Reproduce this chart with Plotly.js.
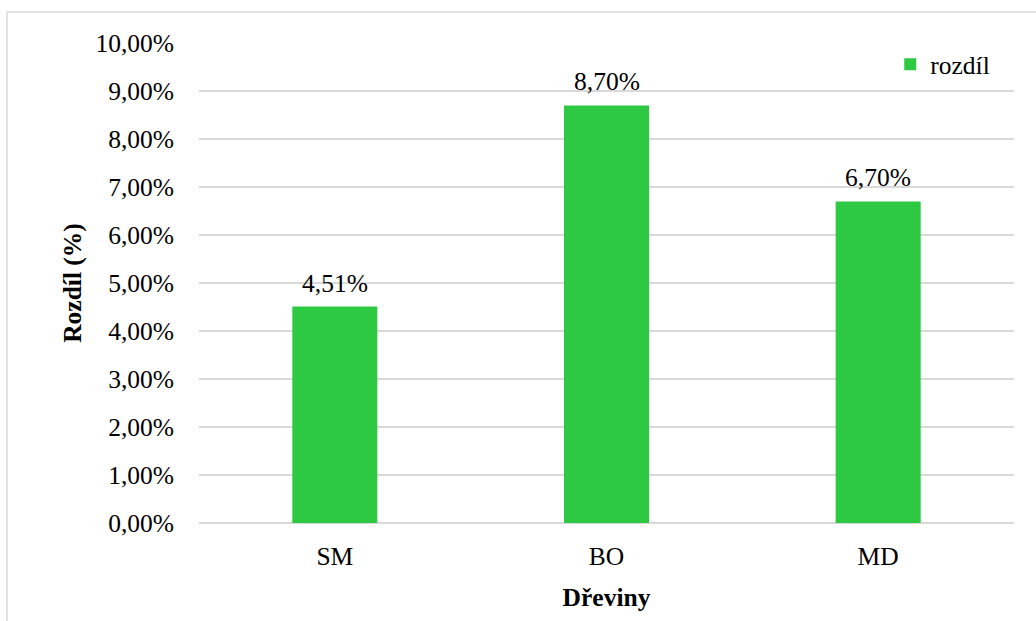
<!DOCTYPE html>
<html>
<head>
<meta charset="utf-8">
<script src="https://cdn.plot.ly/plotly-3.0.1.min.js"></script>
<style>
  html, body { margin: 0; padding: 0; background: #ffffff; }
  #chart { width: 1036px; height: 621px; }
</style>
</head>
<body>
<div id="chart"></div>
<script>
// Species (dřeviny) and the difference for each, as fractions
const species = ['SM', 'BO', 'MD'];
const differences = [0.0451, 0.087, 0.067];
const seriesName = 'rozdíl';

const FONT = 'Liberation Serif, Times New Roman, serif';
const GREEN = '#2ec943';
const GRID = '#d9d9d9';

function pct(v) {
  return (v * 100).toFixed(2).replace('.', ',') + '%';
}

const trace = {
  type: 'bar',
  x: species,
  y: differences,
  name: seriesName,
  marker: { color: GREEN },
  showlegend: true,
  hoverinfo: 'skip'
};

// Value labels above each bar
const labels = species.map((s, i) => ({
  x: s,
  y: differences[i],
  xref: 'x',
  yref: 'y',
  text: pct(differences[i]),
  showarrow: false,
  yanchor: 'bottom',
  yshift: 7,
  font: { family: FONT, size: 25.5, color: '#000000' }
}));

const layout = {
  width: 1036,
  height: 621,
  margin: { l: 199, r: 22, t: 43, b: 98 },
  paper_bgcolor: '#ffffff',
  plot_bgcolor: '#ffffff',
  separators: ', ',
  font: { family: FONT, size: 25.5, color: '#000000' },
  bargap: 0.687,
  xaxis: {
    type: 'category',
    showgrid: false,
    showline: false,
    zeroline: false,
    ticks: '',
    ticklabelstandoff: 15,
    tickfont: { family: FONT, size: 25.5, color: '#000000' },
    title: {
      text: '<b>Dřeviny</b>',
      font: { family: FONT, size: 25.5, color: '#000000' },
      standoff: 18
    }
  },
  yaxis: {
    range: [0, 0.1],
    dtick: 0.01,
    tick0: 0,
    tickformat: '.2%',
    showgrid: true,
    gridcolor: GRID,
    gridwidth: 1.3,
    zeroline: true,
    zerolinecolor: GRID,
    zerolinewidth: 1.5,
    showline: false,
    ticks: '',
    ticklabelstandoff: 24,
    tickfont: { family: FONT, size: 25.5, color: '#000000' },
    title: {
      text: '<b>Rozdíl (%)</b>',
      font: { family: FONT, size: 25.5, color: '#000000' },
      standoff: 6
    }
  },
  legend: {
    x: 0.977,
    xanchor: 'right',
    y: 0.955,
    yanchor: 'middle',
    bgcolor: 'rgba(0,0,0,0)',
    font: { family: FONT, size: 25.5, color: '#000000' },
    itemwidth: 30
  },
  annotations: labels,
  shapes: [
    {
      type: 'rect',
      xref: 'paper',
      yref: 'paper',
      x0: -0.2356,
      x1: 1.2,
      y0: -0.4,
      y1: 1.0646,
      line: { color: GRID, width: 1.5 },
      fillcolor: 'rgba(0,0,0,0)',
      layer: 'below'
    }
  ]
};

Plotly.newPlot('chart', [trace], layout, { displayModeBar: false, staticPlot: true });
</script>
</body>
</html>
